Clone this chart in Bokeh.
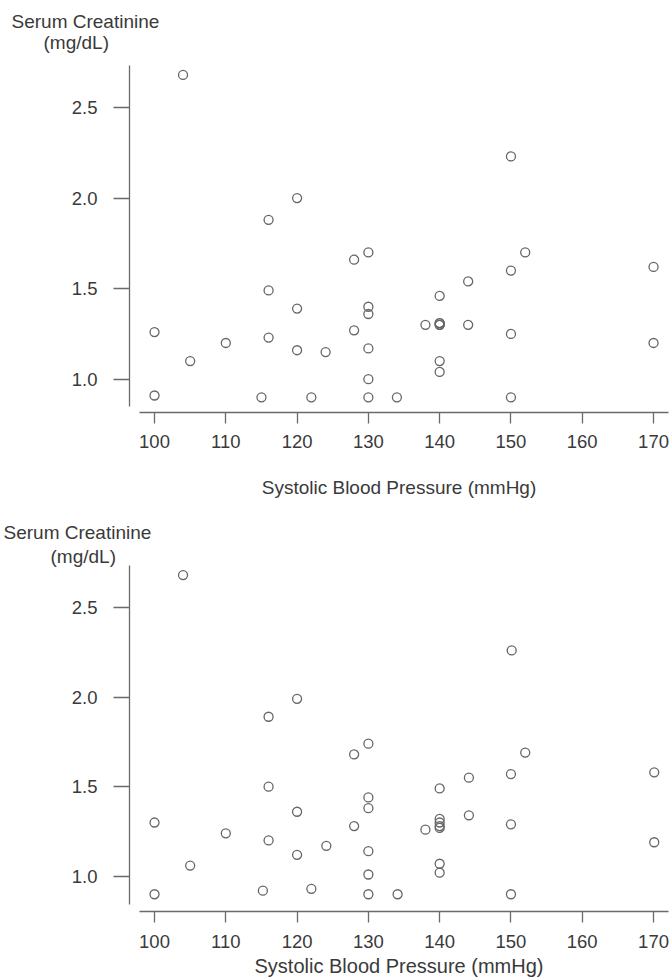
from bokeh.plotting import figure
from bokeh.layouts import column
from bokeh.models import Range1d, FixedTicker, NumeralTickFormatter, Title
from bokeh.embed import file_html
from bokeh.resources import INLINE

# ---------------- data ----------------
sbp_top = [104, 120, 116, 150, 116, 120, 100, 116, 110, 120, 124, 105, 100, 115, 122,
           128, 130, 130, 130, 128, 130, 130, 130, 134, 138, 140, 140, 140, 140, 140,
           140, 140, 144, 144, 150, 152, 150, 150, 170, 170]
cr_top = [2.68, 2.00, 1.88, 2.23, 1.49, 1.39, 1.26, 1.23, 1.20, 1.16, 1.15, 1.10, 0.91, 0.90, 0.90,
          1.66, 1.70, 1.40, 1.36, 1.27, 1.17, 1.00, 0.90, 0.90, 1.30, 1.46, 1.30, 1.30, 1.31, 1.31,
          1.10, 1.04, 1.54, 1.30, 1.60, 1.70, 1.25, 0.90, 1.62, 1.20]

sbp_bottom = [104, 120, 116, 150.1, 116, 120, 100, 110, 116, 124.1, 120, 105, 115.2, 122, 100,
              128, 130, 130, 130, 128, 130, 130, 130, 134.1, 138, 140, 140, 140, 140, 140,
              140, 140, 144.1, 144.1, 150, 152, 150, 150, 170.1, 170.1]
cr_bottom = [2.68, 1.99, 1.89, 2.26, 1.50, 1.36, 1.30, 1.24, 1.20, 1.17, 1.12, 1.06, 0.92, 0.93, 0.90,
             1.68, 1.74, 1.44, 1.38, 1.28, 1.14, 1.01, 0.90, 0.90, 1.26, 1.49, 1.32, 1.30, 1.28, 1.27,
             1.07, 1.02, 1.55, 1.34, 1.57, 1.69, 1.29, 0.90, 1.58, 1.19]

x_ticks = [100, 110, 120, 130, 140, 150, 160, 170]
y_ticks = [1.0, 1.5, 2.0, 2.5]
x_title = "Systolic Blood Pressure (mmHg)"
y_title_line1 = "Serum Creatinine"
y_title_line2 = "(mg/dL)"

FONT = "Liberation Sans"
TEXT = "#3a3a3a"
AXIS = "#6a6a6a"
MARK = "#666666"


def make_panel(xs, ys, height, border_top, border_bottom, y_range, y_bounds,
               xlab_size, tick_standoff, xlab_standoff,
               mg_offset, mg_standoff, serum_offset, serum_standoff):
    p = figure(width=670, height=height,
               x_range=Range1d(96.49, 172.10), y_range=Range1d(*y_range),
               output_backend="svg", toolbar_location=None,
               min_border_left=129, min_border_right=2,
               min_border_top=border_top, min_border_bottom=border_bottom)
    p.outline_line_color = None
    p.grid.visible = False
    p.background_fill_color = "white"
    p.border_fill_color = "white"

    p.scatter(xs, ys, marker="circle", size=9, fill_color=None,
              line_color=MARK, line_width=1.3)

    xa = p.xaxis[0]
    xa.ticker = FixedTicker(ticks=x_ticks)
    xa.formatter = NumeralTickFormatter(format="0")
    xa.bounds = (97.9, 172.1)
    xa.axis_line_color = AXIS
    xa.axis_line_width = 1.3
    xa.major_tick_line_color = AXIS
    xa.major_tick_line_width = 1.3
    xa.major_tick_in = 0
    xa.major_tick_out = 11
    xa.minor_tick_line_color = None
    xa.minor_tick_out = 0
    xa.major_label_text_font = FONT
    xa.major_label_text_font_size = "18.5px"
    xa.major_label_text_color = TEXT
    xa.major_label_standoff = tick_standoff
    xa.axis_label = x_title
    xa.axis_label_text_font = FONT
    xa.axis_label_text_font_style = "normal"
    xa.axis_label_text_font_size = xlab_size
    xa.axis_label_text_color = TEXT
    xa.axis_label_standoff = xlab_standoff

    ya = p.yaxis[0]
    ya.ticker = FixedTicker(ticks=y_ticks)
    ya.formatter = NumeralTickFormatter(format="0.0")
    ya.bounds = y_bounds
    ya.axis_line_color = AXIS
    ya.axis_line_width = 1.3
    ya.major_tick_line_color = AXIS
    ya.major_tick_line_width = 1.3
    ya.major_tick_in = 0
    ya.major_tick_out = 16
    ya.minor_tick_line_color = None
    ya.minor_tick_out = 0
    ya.major_label_text_font = FONT
    ya.major_label_text_font_size = "18.5px"
    ya.major_label_text_color = TEXT
    ya.major_label_standoff = 16

    t_mg = Title(text=y_title_line2, align="left", offset=mg_offset, standoff=mg_standoff,
                 text_font=FONT, text_font_size="19px", text_font_style="normal",
                 text_color=TEXT)
    p.add_layout(t_mg, "above")
    t_serum = Title(text=y_title_line1, align="left", offset=serum_offset,
                    standoff=serum_standoff, text_font=FONT, text_font_size="19px",
                    text_font_style="normal", text_color=TEXT)
    p.add_layout(t_serum, "above")
    return p


p1 = make_panel(sbp_top, cr_top, 510, 65, 98, (0.8162, 2.7319), (0.851, 2.7319),
                "19px", 11, 26, -86, 25.4, -118, -28.6)
p2 = make_panel(sbp_bottom, cr_bottom, 469, 55, 67, (0.8037, 2.7336), (0.8426, 2.7336),
                "20px", 12, 4, -79, -2, -126, 3.6)

layout = column(p1, p2, spacing=0)
open("out.html", "w").write(file_html(layout, INLINE))
